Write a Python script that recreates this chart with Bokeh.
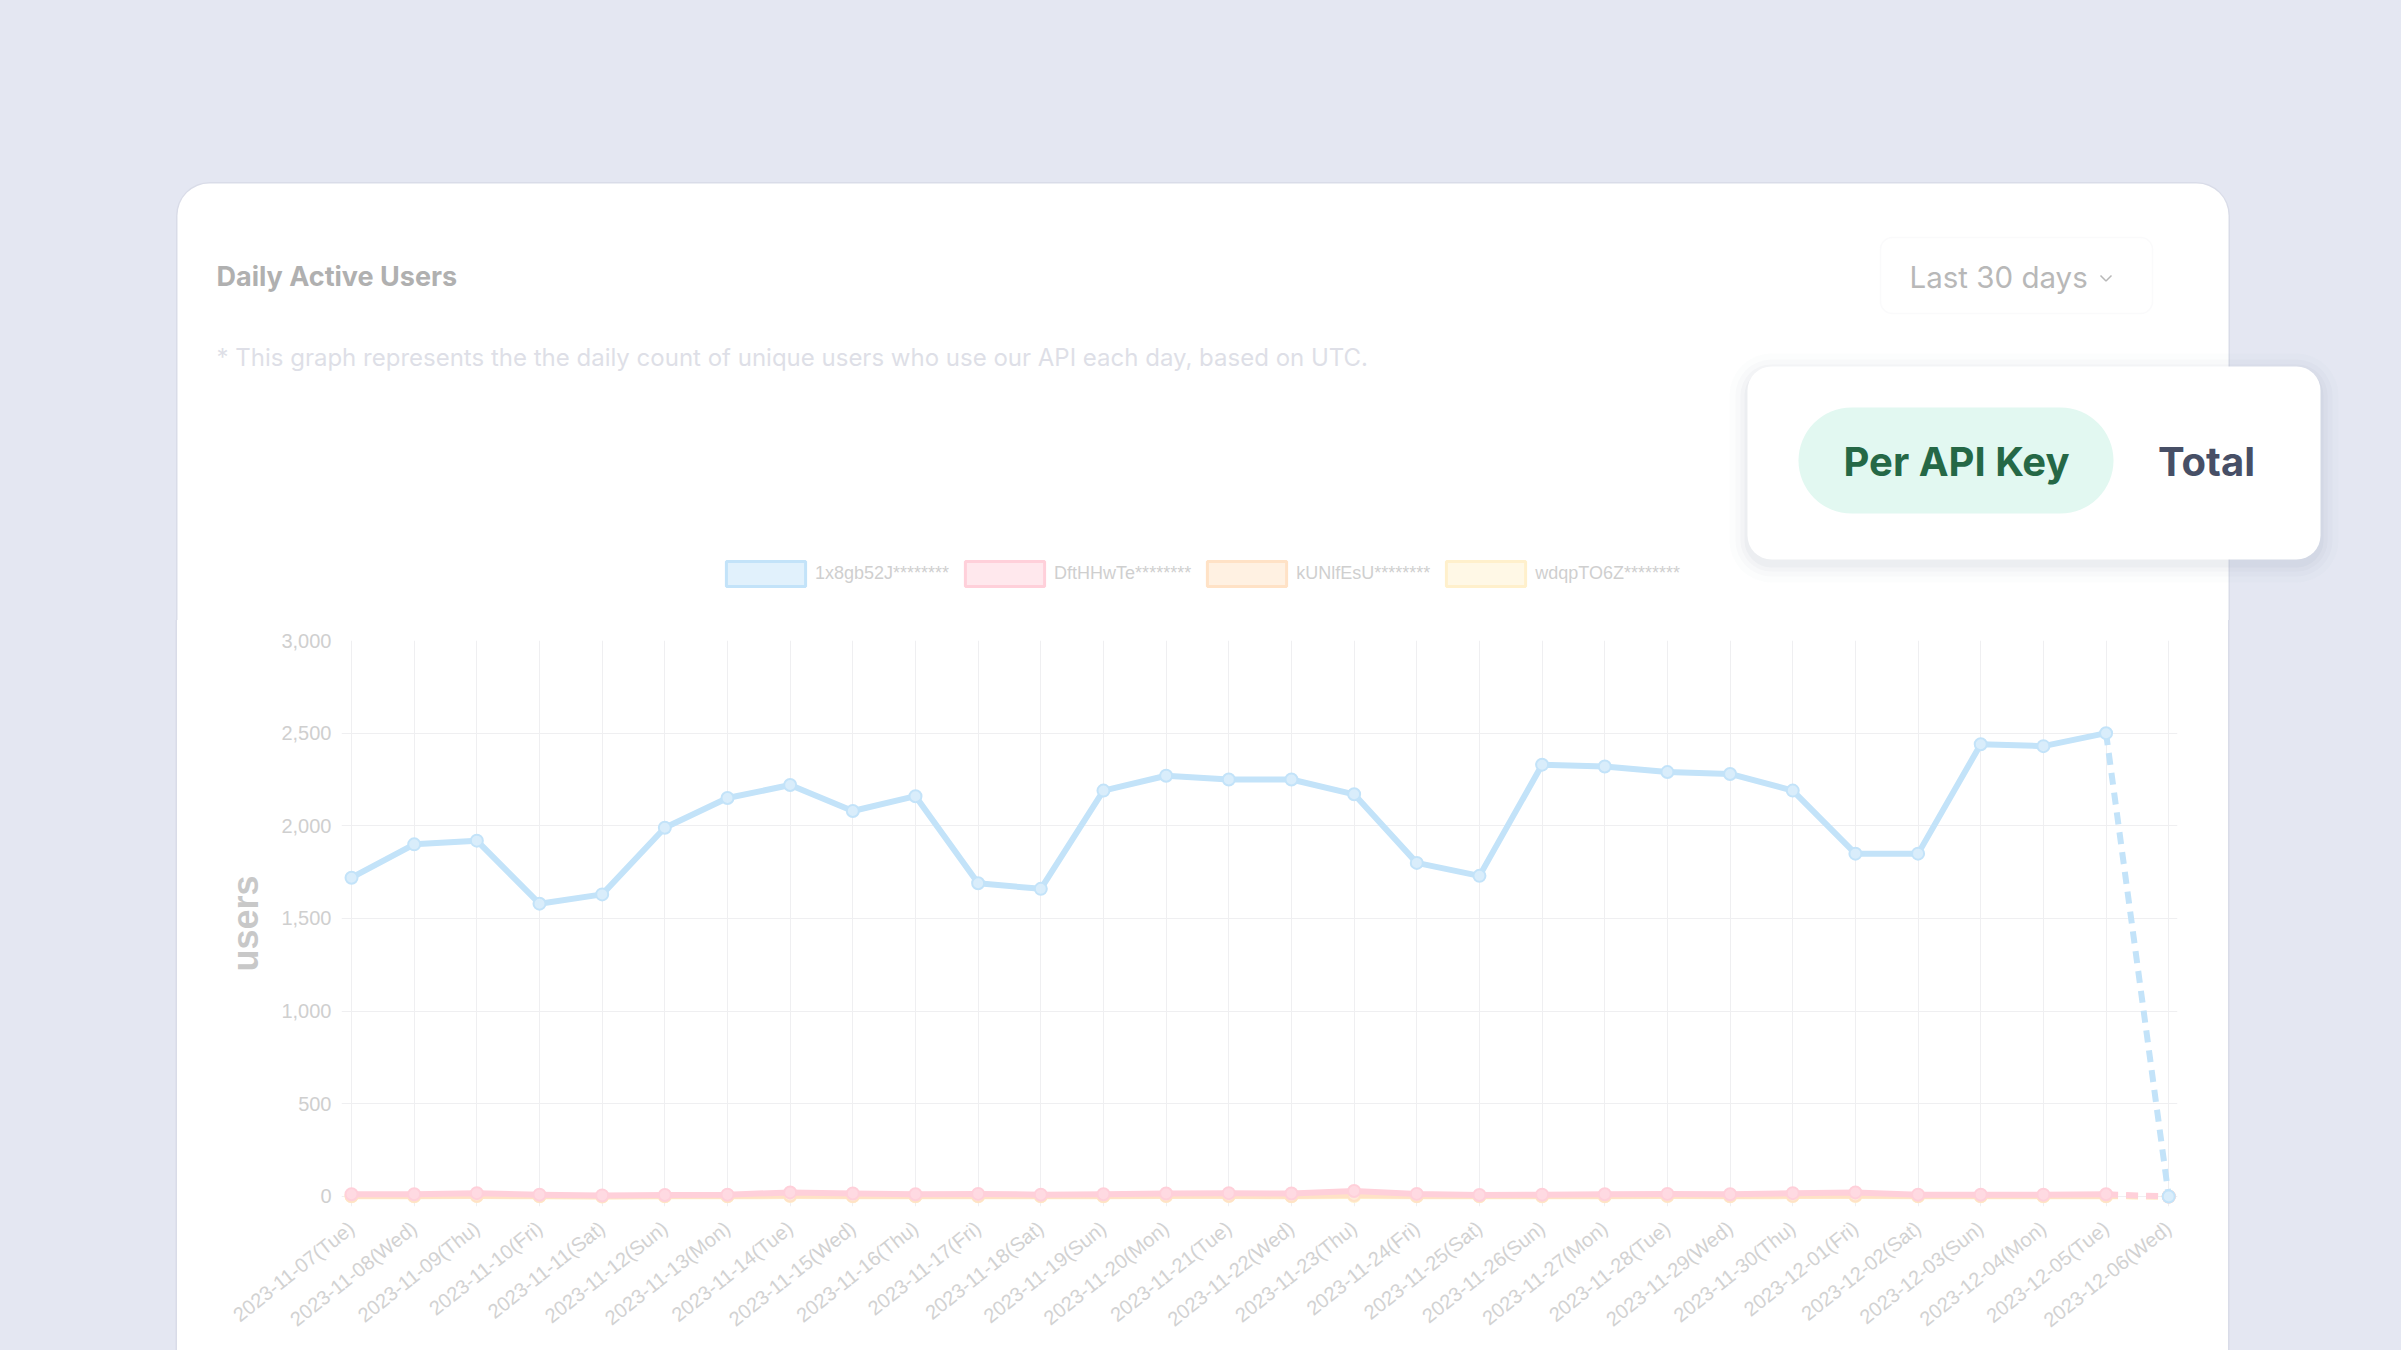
from bokeh.plotting import figure
from bokeh.models import (Range1d, FixedTicker, NumeralTickFormatter, Label, BoxAnnotation,
                          Legend, LegendItem, Div, ColumnDataSource)
from bokeh.layouts import column, row
from bokeh.embed import file_html
from bokeh.resources import INLINE

# ---------------- data ----------------
dates = ["2023-11-07(Tue)", "2023-11-08(Wed)", "2023-11-09(Thu)", "2023-11-10(Fri)", "2023-11-11(Sat)",
         "2023-11-12(Sun)", "2023-11-13(Mon)", "2023-11-14(Tue)", "2023-11-15(Wed)", "2023-11-16(Thu)",
         "2023-11-17(Fri)", "2023-11-18(Sat)", "2023-11-19(Sun)", "2023-11-20(Mon)", "2023-11-21(Tue)",
         "2023-11-22(Wed)", "2023-11-23(Thu)", "2023-11-24(Fri)", "2023-11-25(Sat)", "2023-11-26(Sun)",
         "2023-11-27(Mon)", "2023-11-28(Tue)", "2023-11-29(Wed)", "2023-11-30(Thu)", "2023-12-01(Fri)",
         "2023-12-02(Sat)", "2023-12-03(Sun)", "2023-12-04(Mon)", "2023-12-05(Tue)", "2023-12-06(Wed)"]
key_1x8 = [1720, 1900, 1920, 1580, 1630, 1990, 2150, 2220, 2080, 2160, 1690, 1660, 2190, 2270, 2250,
           2250, 2170, 1800, 1730, 2330, 2320, 2290, 2280, 2190, 1850, 1850, 2440, 2430, 2500, 0]
key_dft = [12, 12, 18, 10, 6, 8, 10, 22, 16, 12, 14, 10, 12, 16, 18, 16, 30, 14, 8, 10, 12, 14, 12,
           18, 22, 10, 10, 10, 12, 0]
key_kun = [3, 2, 4, 2, 1, 2, 3, 5, 3, 3, 2, 2, 3, 4, 4, 3, 8, 3, 2, 3, 3, 4, 3, 4, 5, 2, 2, 2, 3, 0]
key_wdq = [1, 1, 2, 1, 0, 1, 1, 2, 1, 1, 1, 1, 1, 2, 2, 1, 3, 1, 1, 1, 1, 2, 1, 2, 2, 1, 1, 1, 1, 0]
series_names = ["1x8gb52J********", "DftHHwTe********", "kUNlfEsU********", "wdqpTO6Z********"]
y_ticks = [0, 500, 1000, 1500, 2000, 2500, 3000]
title_text = "Daily Active Users"
note_text = "* This graph represents the the daily count of unique users who use our API each day, based on UTC."
range_text = "Last 30 days"
toggle_texts = ["Per API Key", "Total"]

W, H = 2401, 1350
TOP_H = 620
BG = "#e4e7f2"
EDGE = "#d9dce8"
PAGE_BG = (f"linear-gradient({BG}, {BG}) 0 0 / 100% 600px no-repeat, "
           f"linear-gradient(to right, {BG} 0px, {BG} 177px, #ffffff 177px, "
           f"#ffffff 2228px, {BG} 2228px, {BG} 100%)")

# ---------------- top section (page pixels, y down) ----------------
T = figure(width=W, height=TOP_H, x_range=Range1d(0, W), y_range=Range1d(TOP_H, 0),
           x_axis_type=None, y_axis_type=None, output_backend="svg", toolbar_location=None,
           min_border=0, min_border_left=0, min_border_right=0, min_border_top=0,
           min_border_bottom=0, background_fill_color=BG, border_fill_color=BG,
           outline_line_color=None)


def box(l, r, t, b, fill, line=None, radius=0, alpha=1.0, level="image", lw=1):
    T.add_layout(BoxAnnotation(left=l, right=r, top=t, bottom=b,
                               fill_color=fill, fill_alpha=alpha, line_color=line, line_width=lw,
                               border_radius=radius, level=level))


def lab(x, y, text, size, color, font="Inter", style="normal", align="left", level="overlay"):
    T.add_layout(Label(x=x, y=y, text=text, text_font_size=f"{size}px", text_color=color,
                       text_font=font, text_font_style=style, text_align=align,
                       text_baseline="middle", level=level))


# card (top part; continues below)
box(175.5, 2229.5, 181.5, 760, EDGE, radius=34)
box(177, 2228, 183, 760, "#ffffff", radius=32)
lab(216, 276, title_text, 27, "#b0b0b0", font="Inter", style="bold")
lab(216, 357, note_text, 24, "#dedfe7", font="Inter")
# dropdown
box(1880, 2152, 237, 313, "#ffffff", line="#f0f0f3", radius=12, level="underlay", lw=1.5)
lab(1909, 276, range_text, 29.5, "#b8b8b8", font="Inter")
T.line([2100, 2105.5, 2111], [275, 280.5, 275], line_color="#b8b8b8", line_width=1.5)

# popup shadow + popup
for grow, a in [(18, 0.02), (12, 0.03), (7, 0.04), (3, 0.05)]:
    box(1747 - grow, 2320 + grow, 366 - grow + 5, 559 + grow + 5, "#7d849e", radius=24 + grow,
        alpha=a, level="overlay")
box(1747, 2320, 366, 559, "#ffffff", radius=24, level="overlay")
box(1798, 2113, 407, 513, "#e2f8f1", radius=53, level="overlay")
lab(1956, 461, toggle_texts[0], 40, "#256846", font="Inter", style="bold", align="center")
lab(2206, 461, toggle_texts[1], 40, "#474f66", font="Inter", style="bold", align="center")

# ---------------- chart ----------------
C = figure(width=2051, height=H - TOP_H, output_backend="svg", toolbar_location=None,
           x_range=Range1d(-0.16, 29.14), y_range=Range1d(-54, 3000),
           min_border_left=164, min_border_right=51, min_border_top=20, min_border_bottom=144,
           border_fill_color="#ffffff", background_fill_color="#ffffff", outline_line_color=None)

x = list(range(len(dates)))
styles = [  # (values, line, point fill, legend fill)
    (key_wdq, "#fff0cc", "#fff5de", "#fff8e6"),
    (key_kun, "#ffe2c6", "#ffebd9", "#fff1e2"),
    (key_dft, "#ffd0da", "#ffdae2", "#ffe8ed"),
    (key_1x8, "#c3e3f9", "#d9edfb", "#e1f1fc"),
]
for vals, lc, pf, _ in styles:
    n = len(vals)
    C.line(x[:n - 1], vals[:n - 1], line_color=lc, line_width=6, line_join="round")
    C.line(x[n - 2:], vals[n - 2:], line_color=lc, line_width=6, line_dash="12 8")
    C.scatter(x, vals, size=12, fill_color=pf, line_color=lc, line_width=2)

# legend (boxes) drawn in the top section, just above the chart
nan = float("nan")
items = []
for (vals, lc, pf, lf), name in zip(reversed(styles), series_names):
    src = ColumnDataSource(dict(left=[nan], right=[nan], top=[nan], bottom=[nan]))
    r = T.quad(left="left", right="right", top="top", bottom="bottom", source=src,
               fill_color=lf, line_color=lc, line_width=3)
    items.append(LegendItem(label=name, renderers=[r], index=0))
legend = Legend(items=items, orientation="horizontal", location=(716, TOP_H - 588.5),
                glyph_width=99, glyph_height=31, label_standoff=0, spacing=6,
                padding=0, margin=0, background_fill_alpha=0, border_line_color=None,
                label_text_font="Liberation Sans", label_text_font_size="18px",
                label_text_color="#cfcfcf", label_height=31)
T.add_layout(legend)

# axes & grid
GRID = "#efeff1"
C.xgrid.grid_line_color = GRID
C.ygrid.grid_line_color = GRID
C.xgrid.ticker = FixedTicker(ticks=x)
C.ygrid.ticker = FixedTicker(ticks=y_ticks)

ya = C.yaxis[0]
ya.ticker = FixedTicker(ticks=y_ticks)
ya.formatter = NumeralTickFormatter(format="0,0")
ya.axis_line_color = None
ya.major_tick_line_color = None
ya.minor_tick_line_color = None
ya.major_tick_out = 0
ya.major_label_standoff = 10
ya.major_label_text_font = "Liberation Sans"
ya.major_label_text_font_size = "20px"
ya.major_label_text_color = "#cfcfcf"
ya.axis_label = "users"
ya.axis_label_text_font = "Liberation Sans"
ya.axis_label_text_font_size = "36px"
ya.axis_label_text_font_style = "bold"
ya.axis_label_text_color = "#c8c8c8"
ya.axis_label_standoff = 12

xa = C.xaxis[0]
xa.ticker = FixedTicker(ticks=x)
xa.major_label_overrides = {i: d for i, d in enumerate(dates)}
xa.major_label_orientation = 0.67
xa.axis_line_color = None
xa.major_tick_line_color = None
xa.minor_tick_line_color = None
xa.major_tick_out = 0
xa.major_label_standoff = 19
xa.major_label_text_font = "Liberation Sans"
xa.major_label_text_font_size = "20px"
xa.major_label_text_color = "#d2d2d2"

# side strips (page background + card edge)
L = Div(text="", width=177, height=H - TOP_H, margin=0,
        styles={"background-color": BG, "box-shadow": f"inset -1.5px 0 0 {EDGE}"})
R = Div(text="", width=W - 2228, height=H - TOP_H, margin=0,
        styles={"background-color": BG, "box-shadow": f"inset 1.5px 0 0 {EDGE}"})

layout = column(T, row(L, C, R, spacing=0), spacing=0, styles={"background": PAGE_BG})
open("out.html", "w").write(file_html(layout, INLINE))
